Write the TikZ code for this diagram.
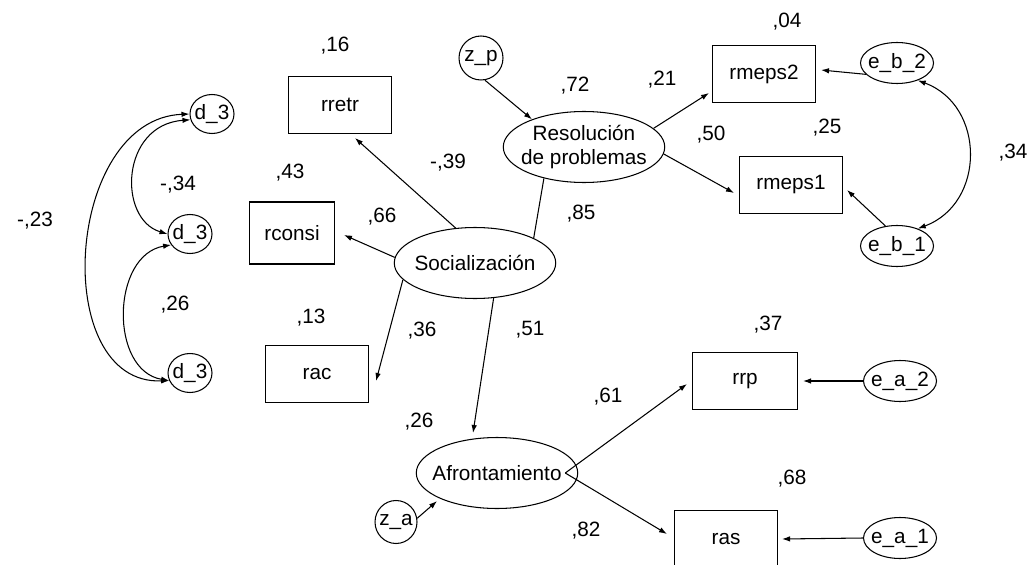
\documentclass[tikz,border=0pt]{standalone}
\usepackage{fontspec}
\setmainfont{Liberation Sans}
\usetikzlibrary{arrows.meta,shapes.geometric,calc}
\tikzset{
  obs/.style = {draw, rectangle, minimum width=2.06cm, minimum height=1.14cm, inner sep=0pt},
  lat/.style = {draw, ellipse, align=center, inner sep=-1cm,
                minimum width=3.23cm, minimum height=1.42cm},
  err/.style = {draw, ellipse, inner sep=-1cm, minimum width=1.46cm, minimum height=0.82cm},
  dis/.style = {draw, ellipse, inner sep=-1cm, minimum width=0.88cm, minimum height=0.78cm},
  lbl/.style = {inner sep=0pt},
  ar/.style  = {-{Latex[length=1.6mm,width=1.1mm]}},
  cov/.style = {{Latex[length=1.6mm,width=1.1mm]}-{Latex[length=1.6mm,width=1.1mm]}},
}
\begin{document}
\begin{tikzpicture}[x=0.02cm, y=-0.02cm, line width=0.6pt,
                    font=\fontsize{11.8}{14.2}\selectfont]
\useasboundingbox (0,0) rectangle (1033,564);

% latent variables
\node[lat] (soc) at (475,263) {Socialización};
\node[lat] (res) at (584,147) {Resolución\\de problemas};
\node[lat] (afr) at (497,473) {Afrontamiento};

% observed variables
\node[obs] (rretr) at (340,105) {rretr};
\node[obs, minimum width=1.7cm, minimum height=1.24cm] (rconsi) at (292,233) {rconsi};
\node[obs] (rac) at (317,374) {rac};
\node[obs] (rmeps2) at (764,74) {rmeps2};
\node[obs] (rmeps1) at (791,185) {rmeps1};
\node[obs, minimum width=2.1cm] (rrp) at (745,381) {rrp};
\node[obs] (ras) at (726,539) {ras};

% disturbances and errors
\node[dis, minimum height=0.88cm] (zp) at (481,58) {z\_p};
\node[dis, minimum width=0.84cm, minimum height=0.86cm] (za) at (396,522) {z\_a};
\node[dis] (d3a) at (212,114) {d\_3};
\node[dis] (d3b) at (190,234) {d\_3};
\node[dis] (d3c) at (190,373) {d\_3};
\node[err] (eb2) at (897,63) {e\_b\_2};
\node[err] (eb1) at (897,246) {e\_b\_1};
\node[err] (ea2) at (900,381) {e\_a\_2};
\node[err] (ea1) at (900,538) {e\_a\_1};

% coefficients
\node[lbl] (v16) at (335,46) {,16};
\node[lbl] (v43) at (290,173) {,43};
\node[lbl] (v13) at (311,318) {,13};
\node[lbl] (v66) at (382,217) {,66};
\node[lbl] (v39) at (448,163) {-,39};
\node[lbl] (v36) at (422,331) {,36};
\node[lbl] (v51) at (530,330) {,51};
\node[lbl] (v85) at (581,214) {,85};
\node[lbl] (v72) at (575,86) {,72};
\node[lbl] (v21) at (662,80) {,21};
\node[lbl] (v04) at (787,22) {,04};
\node[lbl] (v50) at (711,135) {,50};
\node[lbl] (v25) at (827,128) {,25};
\node[lbl] (v34) at (1013,153) {,34};
\node[lbl] (v37) at (768,325) {,37};
\node[lbl] (v61) at (608,397) {,61};
\node[lbl] (v26a) at (419,422) {,26};
\node[lbl] (v68) at (792,479) {,68};
\node[lbl] (v82) at (586,531) {,82};
\node[lbl] (v23) at (35,221) {-,23};
\node[lbl] (v34d) at (178,185) {-,34};
\node[lbl] (v26d) at (175,305) {,26};

% paths
\draw[ar] (zp.280) -- (res.152);
\draw[ar] (res.15) -- ($(rmeps2.south west)+(-3,-10)$);
\draw[ar] (res.355) -- ($(rmeps1.west)+(-5,8)$);
\draw[ar] (eb2.200) -- ($(rmeps2.east)+(5,-4)$);
\draw[ar] (eb1.120) -- ($(rmeps1.east)+(4,5)$);
\draw[ar] (soc.119) -- ($(rretr.south)+(15,4)$);
\draw[ar] (soc.176) -- ($(rconsi.east)+(9,2)$);
\draw[ar] (soc.193) -- ($(rac.east)+(7,7)$);
\draw[ar] (soc.298) -- ($(afr.north)+(-24,-4)$);
\draw (soc.23) -- (res.218);
\coordinate (afrout) at ($(afr.east)+(-13,0)$);
\draw[ar] (afrout) -- ($(rrp.west)+(-5,3)$);
\draw[ar] (afrout) -- ($(ras.west)+(-7,-5)$);
\draw[ar] (za.10) -- ($(afr.205)+(-4,2)$);
\draw[ar] (ea2.west) -- ($(rrp.east)+(5,0)$);
\draw[ar] (ea1.west) -- ($(ras.east)+(4,0)$);

% covariances
\draw[cov] (d3a.west) .. controls +(-125,5) and +(-120,5) .. (d3c.200);
\draw[cov] (d3a.195) .. controls +(-70,5) and +(-50,-15) .. (d3b.west);
\draw[cov] (d3b.210) .. controls +(-60,10) and +(-60,-10) .. (d3c.200);
\draw[cov] (eb2.320) .. controls +(68,25) and +(68,-25) .. (eb1.40);
\end{tikzpicture}
\end{document}
